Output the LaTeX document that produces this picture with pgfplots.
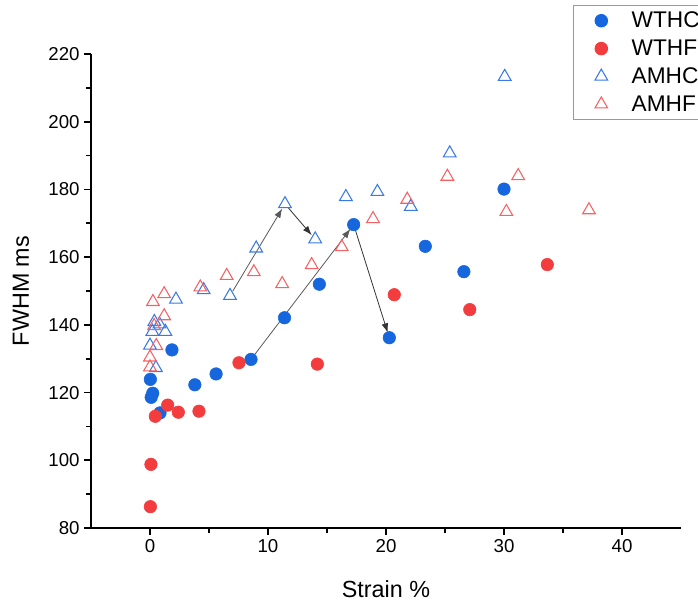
\documentclass[border=0pt]{standalone}
\usepackage{fontspec}
\setmainfont{Liberation Sans}
\usepackage{pgfplots}
\pgfplotsset{compat=1.18}
\usetikzlibrary{calc,arrows.meta}
\definecolor{wthc}{RGB}{22,102,222}
\definecolor{wthf}{RGB}{242,60,62}
\definecolor{amhc}{RGB}{58,122,232}
\definecolor{amhf}{RGB}{246,98,100}
\begin{document}
\begin{tikzpicture}
\begin{axis}[
  scale only axis, width=442.5pt, height=355.5pt,
  xmin=-5, xmax=45, ymin=80, ymax=220,
  axis lines=left, axis line style={-, line width=1.2pt},
  xtick={0,10,20,30,40}, ytick={80,100,...,220},
  minor x tick num=1, minor y tick num=1,
  tick align=outside, tick style={black, line width=1.2pt},
  major tick length=5pt, minor tick length=3.5pt,
  /pgf/number format/assume math mode=true,
  tick label style={font=\fontsize{14}{16}\selectfont},
  xlabel={Strain \%}, ylabel={FWHM ms},
  label style={font=\fontsize{17.5}{20}\selectfont},
  xlabel style={at={(axis description cs:0.5,-0.1287)}, anchor=center},
  ylabel style={at={(axis description cs:-0.1186,0.5)}, anchor=center, rotate=0},
  clip=false,
  legend style={at={(axis description cs:0.817,1.104)}, anchor=north west,
    draw=black!40, line width=0.7pt, font=\fontsize{17}{19}\selectfont,
    inner xsep=4pt, inner ysep=3pt, row sep=3.6pt,
    /tikz/every odd column/.append style={column sep=16pt}},
  legend cell align=left,
  legend image code/.code={\path (0pt,0pt); \draw[#1] plot coordinates {(16.5pt,0pt)};},
]
\coordinate (bl) at (rel axis cs:0,0);
\coordinate (tr) at (rel axis cs:1,1);
% arrows
\draw[black!65, line width=0.6pt, -{Latex[length=7pt,width=5pt]}, shorten <=4pt, shorten >=4pt] (axis cs:8.56,129.8) -- (axis cs:17.26,169.6);
\draw[black!80, line width=0.6pt, -{Latex[length=7pt,width=5pt]}, shorten <=4pt, shorten >=4pt] (axis cs:17.26,169.6) -- (axis cs:20.28,136.2);
\draw[black!65, line width=0.6pt, -{Latex[length=7pt,width=5pt]}, shorten <=4pt, shorten >=4pt] (axis cs:6.78,148.6) -- (axis cs:11.44,175.7);
\draw[black!80, line width=0.6pt, -{Latex[length=7pt,width=5pt]}, shorten <=4pt, shorten >=4pt] (axis cs:11.44,175.7) -- (axis cs:14.0,165.3);

\addplot[only marks, mark=*, mark size=4.7pt, color=wthc, mark options={draw=none, fill=wthc}] coordinates {
(0.03,123.9) (0.23,119.8) (0.1,118.6) (0.85,114.0) (1.86,132.6) (3.8,122.3)
(5.6,125.5) (8.56,129.8) (11.4,142.1) (14.35,152.0) (17.26,169.6) (20.28,136.2)
(23.33,163.2) (26.6,155.7) (30.0,180.1)};
\addlegendentry{WTHC}
\addplot[only marks, mark=*, mark size=4.7pt, color=wthf, mark options={draw=none, fill=wthf}] coordinates {
(0.03,86.3) (0.08,98.8) (0.45,113.0) (1.5,116.3) (2.4,114.2) (4.15,114.5)
(7.54,128.8) (14.18,128.4) (20.7,148.9) (27.1,144.5) (33.67,157.8)};
\addlegendentry{WTHF}
\addplot[only marks, mark=triangle, mark size=5.5pt, color=amhc, mark options={draw=amhc, line width=0.8pt, fill=none}] coordinates {
(0.0,133.9) (0.5,127.3) (0.2,138.0) (0.37,140.9) (0.8,140.2) (1.3,138.0) (2.2,147.5)
(4.55,150.3) (6.78,148.6) (9.0,162.6) (11.44,175.7) (14.0,165.3) (16.6,177.8)
(19.27,179.3) (22.1,174.9) (25.4,190.7) (30.06,213.3)};
\addlegendentry{AMHC}
\addplot[only marks, mark=triangle, mark size=5.5pt, color=amhf, mark options={draw=amhf, line width=0.8pt, fill=none}] coordinates {
(0.0,127.5) (0.0,130.4) (0.53,133.8) (0.35,139.7) (1.2,142.6) (0.25,146.8) (1.2,149.1)
(4.26,151.1) (6.5,154.5) (8.8,155.6) (11.2,152.1) (13.7,157.7) (16.25,163.0)
(18.9,171.3) (21.8,177.0) (25.2,183.8) (30.2,173.4) (31.2,184.0) (37.2,173.9)};
\addlegendentry{AMHF}
\end{axis}
\pgfresetboundingbox
\path[use as bounding box] ($(bl)+(-68.25pt,-56.25pt)$) rectangle ($(tr)+(12.75pt,40.5pt)$);
\end{tikzpicture}
\end{document}
